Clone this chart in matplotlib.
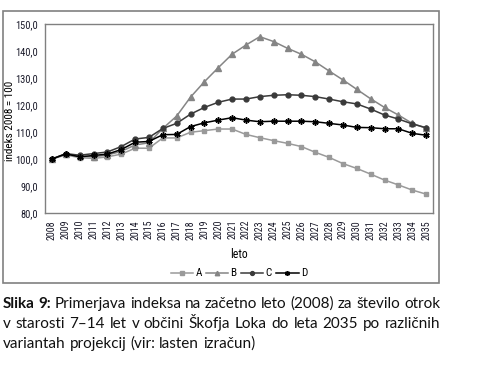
import numpy as np
import matplotlib
matplotlib.use("Agg")
import matplotlib.pyplot as plt
from matplotlib.patches import Rectangle
from matplotlib import font_manager

# data
years = list(range(2008, 2036))
A = [100.0, 101.5, 100.5, 100.2, 100.8, 101.8, 104.0, 104.0, 107.8, 107.8,
     109.9, 110.5, 111.1, 111.1, 109.1, 107.9, 106.8, 105.8, 104.6, 102.5,
     100.6, 98.3, 96.5, 94.4, 92.2, 90.4, 88.5, 87.0]
B = [100.0, 101.8, 101.0, 100.8, 101.5, 102.8, 105.2, 106.0, 111.3, 115.9,
     122.9, 128.6, 133.8, 138.8, 142.2, 145.3, 143.5, 141.0, 138.8, 136.0,
     132.6, 129.3, 125.8, 122.3, 119.1, 116.3, 113.2, 111.4]
C = [100.0, 102.0, 101.4, 102.0, 102.6, 104.6, 107.4, 108.0, 111.3, 113.2,
     116.6, 119.1, 121.0, 122.2, 122.2, 123.1, 123.6, 123.8, 123.6, 123.1,
     122.2, 121.2, 120.4, 118.5, 116.3, 114.8, 113.0, 111.6]
D = [100.0, 101.9, 100.8, 101.3, 101.8, 103.5, 106.2, 106.5, 109.0, 109.1,
     112.0, 113.4, 114.4, 115.3, 114.4, 113.8, 114.0, 114.0, 114.0, 113.8,
     113.2, 112.6, 111.7, 111.6, 111.2, 111.2, 109.5, 108.8]
y_ticks = [80, 90, 100, 110, 120, 130, 140, 150]

caption_lines = [
    "Slika 9: Primerjava indeksa na začetno leto (2008) za število otrok",
    "v starosti 7–14 let v občini Škofja Loka do leta 2035 po različnih",
    "variantah projekcij (vir: lasten izračun)",
]

# pick a narrow face for the chart text if one exists
names = {f.name for f in font_manager.fontManager.ttflist}
narrow = [n for n in ['Liberation Sans Narrow', 'DejaVu Sans Condensed',
                      'Roboto Condensed', 'Roboto'] if n in names] + ['DejaVu Sans']
capfont = ['Lato', 'DejaVu Sans']

W, H = 498, 374
fig = plt.figure(figsize=(W / 100, H / 100), dpi=100)

# outer chart frame
fig.patches.append(Rectangle((3 / W, 1 - 283 / H), 436 / W, 272 / H,
                             transform=fig.transFigure, fill=False,
                             edgecolor='#808080', linewidth=1.2))

ax = fig.add_axes([45 / W, 1 - 213 / H, 388 / W, 189 / H])
x = np.arange(len(years))
ax.plot(x, A, color='#9a9a9a', marker='s', markersize=3.5, linewidth=1.1, label='A')
ax.plot(x, B, color='#858585', marker='^', markersize=4, linewidth=1.1, label='B')
ax.plot(x, C, color='#3a3a3a', marker='o', markersize=3.5, linewidth=1.1, label='C')
ax.plot(x, D, color='#000000', marker=(6, 2, 0), markersize=4.5, linewidth=1.1,
        markeredgewidth=1.1, label='D')

ax.set_xlim(-0.5, len(years) - 0.5)
ax.set_ylim(80, 150)
ax.set_xticks(x)
ax.set_xticklabels([str(y) for y in years], rotation=90, fontsize=7.2,
                   family=narrow, color='#1a1a2a')
ax.set_yticks(y_ticks)
ax.set_yticklabels([f"{v},0" for v in y_ticks], fontsize=7.5, family=narrow,
                   color='#1a1a2a')
ax.tick_params(length=0, pad=5)
for s in ax.spines.values():
    s.set_color('#808080')
    s.set_linewidth(1.0)

ax.set_xlabel('leto', fontsize=8.5, family=narrow, labelpad=6)
ax.set_ylabel('indeks 2008 = 100', fontsize=8, family=narrow)
ax.yaxis.set_label_coords(-0.077, 0.49)

ax.legend(loc='upper center', bbox_to_anchor=(0.5, -0.27), ncol=4, frameon=False,
          prop={'family': narrow, 'size': 8}, handlelength=2.0,
          handletextpad=0.2, columnspacing=0.4, borderaxespad=0, markerscale=0.8)

# justified caption
renderer = fig.canvas.get_renderer()
left, right = 3, 440
baselines = [308, 328, 348]
for i, line in enumerate(caption_lines):
    words = line.split(' ')
    texts = []
    for j, w in enumerate(words):
        bold = (i == 0 and j < 2)
        t = fig.text(0, 1 - baselines[i] / H, w, fontsize=11, family=capfont,
                     fontweight='bold' if bold else 'normal', va='baseline',
                     color='#111111')
        texts.append(t)
    widths = [t.get_window_extent(renderer).width for t in texts]
    if i < len(caption_lines) - 1:
        gap = (right - left - sum(widths)) / (len(words) - 1)
    else:
        gap = 4.0
    pos = left
    for t, w in zip(texts, widths):
        t.set_x(pos / W)
        pos += w + gap

fig.savefig('out.png', dpi=100)
